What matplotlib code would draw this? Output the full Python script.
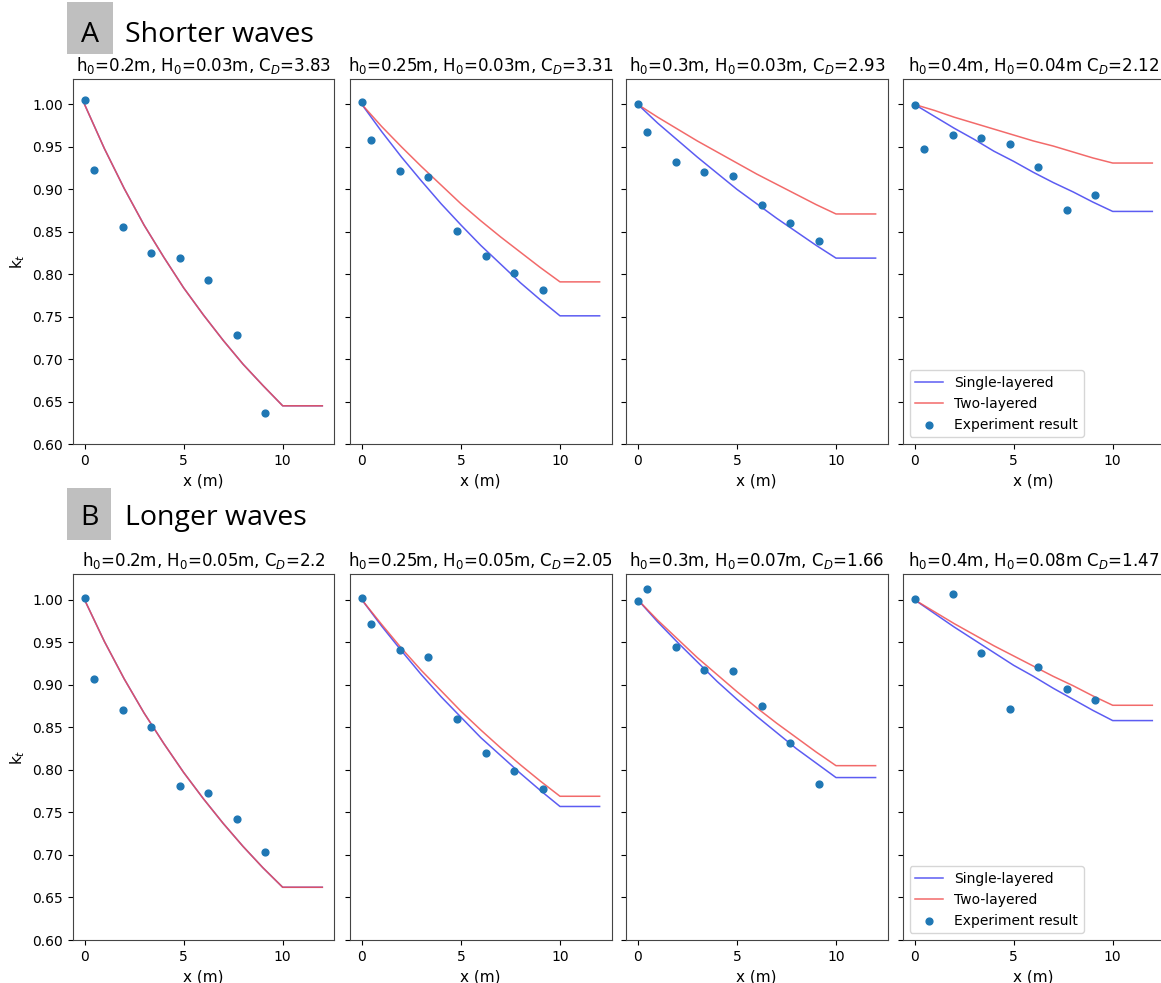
import matplotlib
matplotlib.use('Agg')
import matplotlib.pyplot as plt
from matplotlib.patches import Rectangle

W, H = 1161, 983

# experiment x positions (m)
x_exp = [0, 0.48, 1.92, 3.36, 4.80, 6.24, 7.68, 9.12]
x_exp_b4 = [0, 1.92, 3.36, 4.80, 6.24, 7.68, 9.12]
# model x positions (m)
x_mod = [0, 1, 2, 3, 4, 5, 6, 7, 8, 9, 10, 12]

titles_a = ['h$_0$=0.2m, H$_0$=0.03m, C$_D$=3.83',
            'h$_0$=0.25m, H$_0$=0.03m, C$_D$=3.31',
            'h$_0$=0.3m, H$_0$=0.03m, C$_D$=2.93',
            'h$_0$=0.4m, H$_0$=0.04m C$_D$=2.12']
titles_b = ['h$_0$=0.2m, H$_0$=0.05m, C$_D$=2.2',
            'h$_0$=0.25m, H$_0$=0.05m, C$_D$=2.05',
            'h$_0$=0.3m, H$_0$=0.07m, C$_D$=1.66',
            'h$_0$=0.4m, H$_0$=0.08m C$_D$=1.47']

# A: shorter waves
exp_a = [[1.005, 0.923, 0.856, 0.825, 0.819, 0.793, 0.729, 0.637],
         [1.003, 0.958, 0.922, 0.914, 0.851, 0.822, 0.802, 0.782],
         [1.000, 0.967, 0.932, 0.921, 0.916, 0.882, 0.860, 0.839],
         [0.999, 0.947, 0.964, 0.960, 0.954, 0.926, 0.876, 0.893]]
single_a = [[1.000, 0.948, 0.901, 0.858, 0.820, 0.784, 0.752, 0.722, 0.694, 0.669, 0.645, 0.645],
            [1.000, 0.968, 0.938, 0.910, 0.883, 0.858, 0.834, 0.812, 0.790, 0.770, 0.751, 0.751],
            [1.000, 0.978, 0.958, 0.938, 0.919, 0.900, 0.883, 0.866, 0.850, 0.834, 0.819, 0.819],
            [1.000, 0.986, 0.972, 0.959, 0.945, 0.933, 0.920, 0.908, 0.897, 0.885, 0.874, 0.874]]
two_a = [[1.000, 0.948, 0.901, 0.858, 0.820, 0.784, 0.752, 0.722, 0.694, 0.669, 0.645, 0.645],
         [1.000, 0.974, 0.950, 0.927, 0.905, 0.883, 0.863, 0.844, 0.826, 0.808, 0.791, 0.791],
         [1.000, 0.985, 0.971, 0.957, 0.944, 0.931, 0.918, 0.906, 0.894, 0.882, 0.871, 0.871],
         [1.000, 0.993, 0.985, 0.978, 0.971, 0.964, 0.957, 0.951, 0.944, 0.937, 0.931, 0.931]]

# B: longer waves
exp_b = [[1.002, 0.907, 0.870, 0.851, 0.781, 0.773, 0.742, 0.704],
         [1.002, 0.971, 0.941, 0.933, 0.860, 0.820, 0.799, 0.778],
         [0.999, 1.013, 0.945, 0.918, 0.916, 0.875, 0.832, 0.784],
         [1.001, 1.007, 0.937, 0.872, 0.921, 0.895, 0.882]]
single_b = [[1.000, 0.951, 0.907, 0.867, 0.831, 0.797, 0.766, 0.737, 0.710, 0.685, 0.662, 0.662],
            [1.000, 0.969, 0.940, 0.912, 0.886, 0.862, 0.838, 0.817, 0.796, 0.776, 0.757, 0.757],
            [1.000, 0.974, 0.950, 0.927, 0.904, 0.883, 0.863, 0.844, 0.825, 0.808, 0.791, 0.791],
            [1.000, 0.984, 0.968, 0.953, 0.938, 0.923, 0.910, 0.896, 0.883, 0.870, 0.858, 0.858]]
two_b = [[1.000, 0.951, 0.907, 0.867, 0.831, 0.797, 0.766, 0.737, 0.710, 0.685, 0.662, 0.662],
         [1.000, 0.971, 0.943, 0.917, 0.893, 0.869, 0.847, 0.826, 0.806, 0.787, 0.769, 0.769],
         [1.000, 0.976, 0.954, 0.932, 0.912, 0.892, 0.873, 0.855, 0.838, 0.821, 0.805, 0.805],
         [1.000, 0.986, 0.972, 0.959, 0.946, 0.934, 0.922, 0.910, 0.899, 0.887, 0.876, 0.876]]

fig = plt.figure(figsize=(W / 100, H / 100), dpi=100)

lefts = [72.7, 350, 626, 902.7]
aw = 261.5


def px_axes(left, top, bottom):
    return fig.add_axes([left / W, 1 - bottom / H, aw / W, (bottom - top) / H])


def panel(ax, title, xe, ye, ys, yt, first, legend):
    ax.plot(x_mod, ys, color='#5c5cf2', lw=1.1, label='Single-layered')
    ax.plot(x_mod, yt, color='#f05050', alpha=0.85, lw=1.1, label='Two-layered')
    ax.scatter(xe, ye, s=24, color='#1f77b4', zorder=3, label='Experiment result')
    ax.set_ylim(0.6, 1.03)
    ax.set_xlim(-0.6, 12.6)
    ax.set_xticks([0, 5, 10])
    ax.set_yticks([0.6, 0.65, 0.7, 0.75, 0.8, 0.85, 0.9, 0.95, 1.0])
    ax.set_title(title, fontsize=12)
    ax.set_xlabel('x (m)', fontsize=11)
    for s in ax.spines.values():
        s.set_edgecolor('#444444')
    if first:
        ax.set_ylabel('k$_t$', fontsize=11)
    else:
        ax.set_yticklabels([])
    if legend:
        ax.legend(loc='lower left', fontsize=10)


for i in range(4):
    ax = px_axes(lefts[i], 79, 444)
    panel(ax, titles_a[i], x_exp, exp_a[i], single_a[i], two_a[i], i == 0, i == 3)

for i in range(4):
    ax = px_axes(lefts[i], 574.3, 940)
    xe = x_exp_b4 if i == 3 else x_exp
    panel(ax, titles_b[i], xe, exp_b[i], single_b[i], two_b[i], i == 0, i == 3)

# section headers with gray letter boxes
for (x0, y0, x1, y1), letter, text, base in [((67, 2, 113, 54), 'A', 'Shorter waves', 42),
                                              ((67, 488, 111, 540), 'B', 'Longer waves', 525)]:
    fig.patches.append(Rectangle((x0 / W, 1 - y1 / H), (x1 - x0) / W, (y1 - y0) / H,
                                 transform=fig.transFigure, facecolor='#bfbfbf',
                                 edgecolor='none'))
    fig.text((x0 + x1) / 2 / W, 1 - base / H, letter, fontsize=20.5, family='Open Sans',
             ha='center', va='baseline')
    fig.text(125 / W, 1 - base / H, text, fontsize=20.5, family='Open Sans',
             ha='left', va='baseline')

fig.savefig('out.png', dpi=100)
